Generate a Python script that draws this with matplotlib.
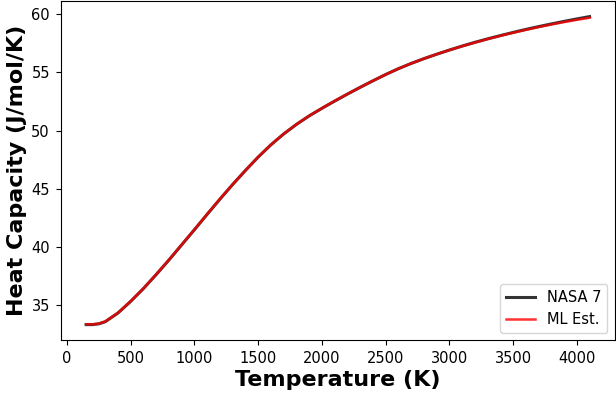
import matplotlib
matplotlib.use("Agg")
import matplotlib.pyplot as plt

temps = [150, 200, 250, 300, 400, 500, 600, 700, 800, 900, 1000, 1100, 1200, 1300,
         1400, 1500, 1600, 1700, 1800, 1900, 2000, 2100, 2200, 2300, 2400, 2500,
         2600, 2700, 2800, 2900, 3000, 3100, 3200, 3300, 3400, 3500, 3600, 3700,
         3800, 3900, 4000, 4100]
nasa7 = [33.35, 33.35, 33.42, 33.6, 34.35, 35.35, 36.45, 37.65, 38.9, 40.2, 41.5,
         42.82, 44.12, 45.38, 46.58, 47.73, 48.78, 49.71, 50.53, 51.26, 51.91, 52.53,
         53.13, 53.71, 54.27, 54.81, 55.31, 55.76, 56.17, 56.55, 56.91, 57.25, 57.57,
         57.87, 58.15, 58.42, 58.68, 58.92, 59.15, 59.37, 59.58, 59.78]
ml_est = [33.38, 33.37, 33.44, 33.62, 34.37, 35.37, 36.47, 37.67, 38.92, 40.22, 41.52,
          42.84, 44.14, 45.39, 46.59, 47.74, 48.79, 49.72, 50.54, 51.27, 51.92, 52.54,
          53.14, 53.71, 54.27, 54.81, 55.31, 55.76, 56.17, 56.55, 56.9, 57.24, 57.55,
          57.85, 58.13, 58.39, 58.64, 58.88, 59.1, 59.31, 59.5, 59.68]

fig = plt.figure(figsize=(6.16, 3.94), dpi=100)
ax = fig.add_axes([0.099, 0.137, 0.899, 0.86])
ax.plot(temps, nasa7, color="black", lw=2.2, alpha=0.8, label="NASA 7")
ax.plot(temps, ml_est, color="red", lw=1.8, alpha=0.8, label="ML Est.")
ax.set_xticks(range(0, 4001, 500))
ax.set_yticks(range(35, 61, 5))
ax.tick_params(labelsize=10.5, pad=4.5)
ax.set_xlabel("Temperature (K)", fontsize=16, fontweight="bold", labelpad=3)
ax.set_ylabel("Heat Capacity (J/mol/K)", fontsize=16, fontweight="bold", labelpad=3)
ax.legend(loc="lower right", fontsize=10.5)
fig.savefig("out.png", dpi=100)
